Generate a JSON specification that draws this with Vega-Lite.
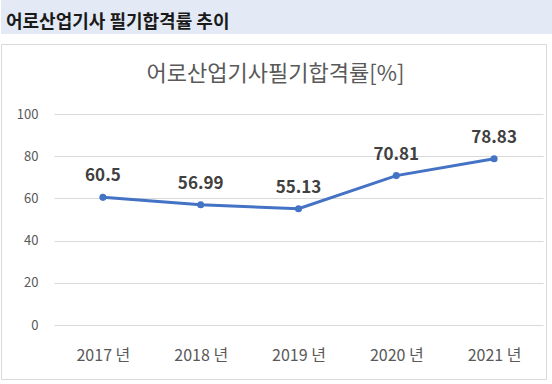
{
  "$schema": "https://vega.github.io/schema/vega-lite/v6.json",
  "padding": 0,
  "background": "white",
  "spacing": 9,
  "config": {"font": "Noto Sans CJK KR", "view": {"stroke": "#D9D9D9"}},
  "vconcat": [
    {
      "width": 552,
      "height": 34,
      "view": {"fill": "#E4EAF5", "stroke": null},
      "title": {"text": "어로산업기사 필기합격률 추이", "anchor": "start", "frame": "group", "orient": "top", "offset": -41, "baseline": "middle", "dx": 5, "fontSize": 18, "fontWeight": "bold", "color": "#1A1A1A", "font": "Noto Sans CJK KR"},
      "data": {"values": [{"label": "header"}]},
      "mark": {"type": "rect", "color": "#E4EAF5"},
      "encoding": {}
    },
    {
      "width": 545,
      "height": 335,
      "title": {"text": "어로산업기사필기합격률[%]", "anchor": "middle", "frame": "group", "orient": "top", "offset": -52, "baseline": "middle", "dx": 2, "fontSize": 22, "fontWeight": "normal", "color": "#595959", "font": "Noto Sans CJK KR"},
      "data": {"values": [
        {"year": "2017 년", "rate": 60.5},
        {"year": "2018 년", "rate": 56.99},
        {"year": "2019 년", "rate": 55.13},
        {"year": "2020 년", "rate": 70.81},
        {"year": "2021 년", "rate": 78.83}
      ]},
      "encoding": {
        "x": {"field": "year", "type": "nominal", "sort": null, "scale": {"range": [53, 542]},
          "axis": {"orient": "bottom", "domain": false, "ticks": false, "tickSize": 0, "labelPadding": 0, "offset": -24, "labelBaseline": "middle", "labelAngle": 0, "labelColor": "#595959", "labelFontSize": 16, "title": null, "grid": false}},
        "y": {"field": "rate", "type": "quantitative", "scale": {"domain": [0, 100], "range": [281, 70], "nice": false},
          "axis": {"values": [0, 20, 40, 60, 80, 100], "grid": true, "gridColor": "#D9D9D9", "gridWidth": 1, "domain": false, "ticks": false, "tickSize": 0, "labelPadding": 0, "offset": -37, "labelColor": "#595959", "labelFontSize": 13, "title": null}}
      },
      "layer": [
        {"mark": {"type": "line", "color": "#4472C4", "strokeWidth": 3}},
        {"mark": {"type": "point", "filled": true, "color": "#4472C4", "size": 50, "opacity": 1}},
        {"mark": {"type": "text", "dy": -21, "baseline": "middle", "fontSize": 17, "fontWeight": "bold", "color": "#404040"}, "encoding": {"text": {"field": "rate", "type": "quantitative"}}}
      ]
    }
  ]
}
